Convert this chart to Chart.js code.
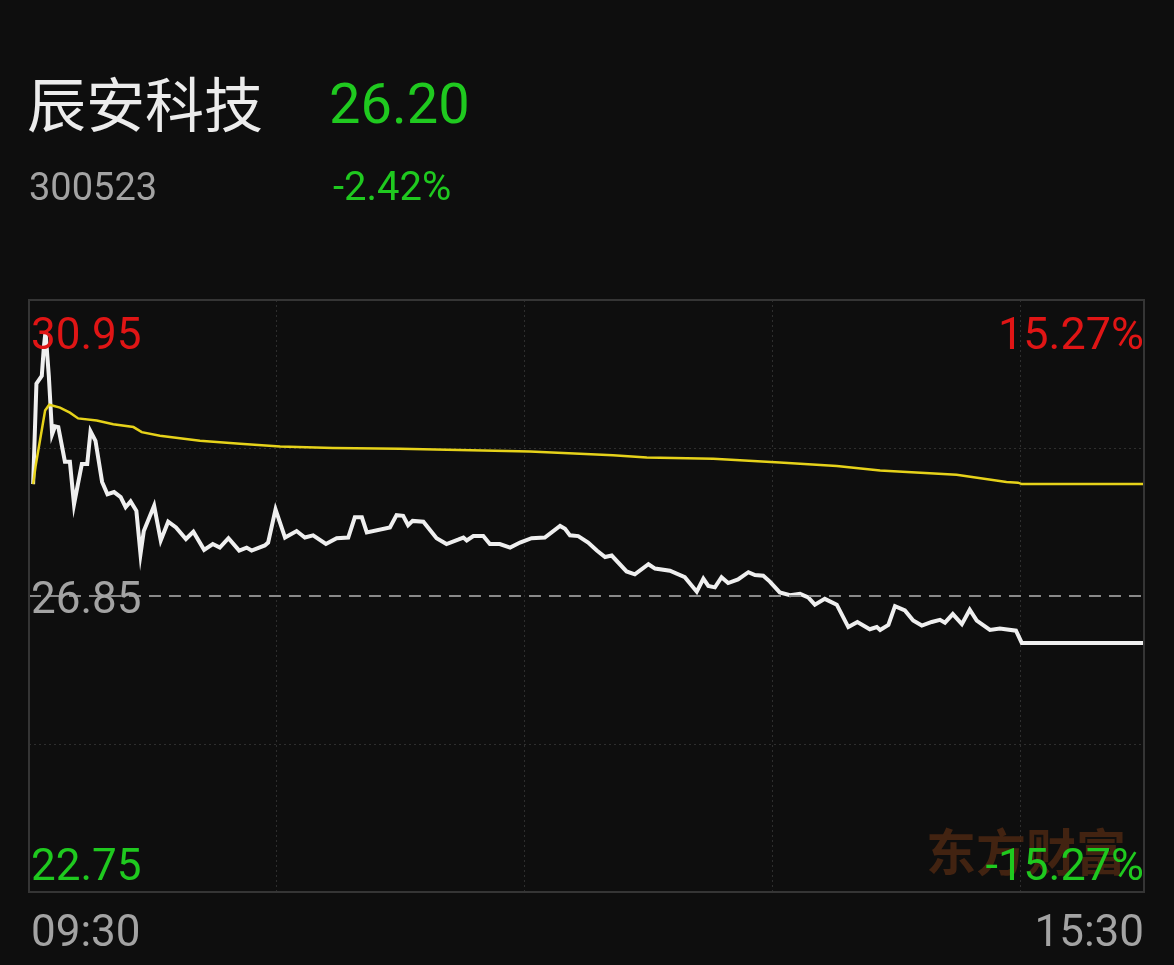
<!DOCTYPE html>
<html lang="zh-CN">
<head>
  <meta charset="UTF-8">
  <title>辰安科技 分时</title>
  <script src="https://cdn.jsdelivr.net/npm/chart.js"></script>
  <style>
    body { margin: 0; background: #0e0e0e; }
    #wrap { width: 1174px; height: 965px; position: relative; }
  </style>
</head>
<body>
  <div id="wrap">
    <canvas id="minuteChart"></canvas>
  </div>

  <script>
    // stock info
    const stockName = '辰安科技';
    const stockCode = '300523';
    const lastPrice = '26.20';
    const changePct = '-2.42%';
    const preClose = 26.85;
    const priceMax = 30.95;
    const priceMin = 22.75;
    const pctLabels = ['15.27%', '-15.27%'];
    const timeLabels = ['09:30', '15:30'];

    // minutes since 09:30 on the trading clock (240 = 15:00, 270 = 15:30 after-hours)
    const priceMinutes = [1.0, 1.8, 3.1, 3.6, 4.0, 4.8, 5.6, 6.3, 7.1, 8.7, 9.9, 10.9, 12.8, 14.1, 14.9, 16.1,
      17.7, 19.0, 20.6, 22.2, 23.4, 24.6, 26.0, 27.0, 27.8, 30.3, 31.9, 33.7, 35.6, 38.0, 39.8, 42.4,
      44.5, 46.2, 48.3, 50.9, 52.7, 53.9, 57.1, 57.9, 59.7, 62.0, 64.8, 66.8, 68.8, 71.9, 74.5, 77.3,
      78.9, 80.6, 81.8, 87.4, 89.0, 90.6, 91.8, 92.9, 95.5, 98.7, 101.1, 103.9, 105.2, 106.0, 107.6, 110.0,
      111.6, 114.0, 116.5, 118.9, 121.7, 124.9, 128.6, 129.8, 131.0, 133.0, 135.4, 137.5, 139.5, 141.1,
      144.7, 146.7, 150.0, 151.6, 155.2, 158.8, 161.7, 163.3, 164.5, 166.1, 167.7, 169.3, 171.7, 174.2,
      175.8, 177.8, 179.4, 181.8, 184.3, 186.7, 188.7, 190.3, 192.7, 195.6, 198.4, 200.6, 203.6, 205.3,
      206.1, 208.1, 209.7, 212.1, 214.1, 216.2, 218.6, 220.6, 221.8, 223.7, 225.9, 227.8, 229.5, 232.7,
      235.1, 239.0, 240.4, 270];
    const prices = [28.40, 29.79, 29.90, 30.30, 30.51, 29.90, 29.09, 29.20, 29.19, 28.71, 28.71, 28.12, 28.68, 28.68, 29.13, 29.00,
      28.43, 28.26, 28.29, 28.22, 28.08, 28.16, 28.03, 27.43, 27.75, 28.10, 27.62, 27.88, 27.80, 27.64, 27.74, 27.49,
      27.57, 27.52, 27.65, 27.48, 27.52, 27.48, 27.55, 27.59, 28.05, 27.66, 27.75, 27.66, 27.69, 27.57, 27.65, 27.66,
      27.94, 27.94, 27.73, 27.80, 27.97, 27.96, 27.83, 27.89, 27.88, 27.65, 27.57, 27.63, 27.66, 27.62, 27.68, 27.68,
      27.57, 27.57, 27.52, 27.59, 27.65, 27.66, 27.82, 27.78, 27.69, 27.68, 27.59, 27.48, 27.39, 27.41,
      27.19, 27.15, 27.29, 27.23, 27.20, 27.11, 26.91, 27.09, 26.99, 26.97, 27.11, 27.03, 27.08, 27.18,
      27.14, 27.13, 27.05, 26.90, 26.86, 26.88, 26.83, 26.73, 26.81, 26.73, 26.42, 26.49, 26.39, 26.42,
      26.38, 26.45, 26.71, 26.65, 26.51, 26.44, 26.49, 26.52, 26.48, 26.60, 26.46, 26.66, 26.51, 26.38,
      26.40, 26.37, 26.20, 26.20];

    const avgMinutes = [1.0, 1.6, 3.9, 4.9, 7.5, 9.9, 11.9, 16.4, 20.4, 25.3, 27.3, 31.7, 41.4, 51.1, 60.8, 73.6,
      89.8, 121.3, 141.4, 149.6, 165.7, 181.8, 195.6, 206.1, 224.6, 236.7, 239.5, 240.4, 270];
    const avgPrices = [28.40, 28.65, 29.42, 29.50, 29.46, 29.39, 29.31, 29.28, 29.23, 29.19, 29.12, 29.07, 29.00, 28.96, 28.92, 28.90,
      28.89, 28.85, 28.80, 28.77, 28.75, 28.70, 28.65, 28.59, 28.53, 28.43, 28.42, 28.40, 28.40];

    const gridPrices = [priceMin, 24.80, preClose, 28.90, priceMax];
    const gridMinutes = [0, 60, 120, 180, 240, 270];

    const GREEN = '#1fc91f';
    const RED = '#e01515';
    const GREY = '#a3a3a3';

    function pairs(xs, ys) {
      return xs.map((x, i) => ({ x: x, y: ys[i] }));
    }

    // frame, watermark and labels drawn on top of the chart area
    const decorPlugin = {
      id: 'decor',
      beforeDatasetsDraw(chart) {
        const ctx = chart.ctx;
        const a = chart.chartArea;
        ctx.save();
        ctx.fillStyle = 'rgba(110, 52, 20, 0.55)';
        ctx.font = 'bold 50px "Noto Sans CJK SC"';
        ctx.textAlign = 'right';
        ctx.textBaseline = 'middle';
        ctx.fillText('东方财富', a.right - 18, 852);
        ctx.restore();
      },
      afterDraw(chart) {
        const ctx = chart.ctx;
        const a = chart.chartArea;
        const y = chart.scales.y;
        ctx.save();
        ctx.strokeStyle = '#353535';
        ctx.lineWidth = 2;
        ctx.strokeRect(a.left, a.top, a.right - a.left, a.bottom - a.top);

        // header
        ctx.textBaseline = 'alphabetic';
        ctx.textAlign = 'left';
        ctx.fillStyle = '#ececec';
        ctx.font = '59px "Noto Sans CJK SC"';
        ctx.fillText(stockName, 27, 127);
        ctx.fillStyle = GREEN;
        ctx.font = '56px Roboto';
        ctx.fillText(lastPrice, 329, 123);
        ctx.fillStyle = GREY;
        ctx.font = '38px Roboto';
        ctx.fillText(stockCode, 29, 200);
        ctx.fillStyle = GREEN;
        ctx.font = '40px Roboto';
        ctx.fillText(changePct, 333, 200);

        // price / percent labels inside the plot
        ctx.font = '44px Roboto';
        ctx.fillStyle = RED;
        ctx.fillText(priceMax.toFixed(2), a.left + 2, y.getPixelForValue(priceMax) + 49);
        ctx.fillStyle = GREY;
        ctx.fillText(preClose.toFixed(2), a.left + 2, y.getPixelForValue(preClose) + 17);
        ctx.fillStyle = GREEN;
        ctx.fillText(priceMin.toFixed(2), a.left + 2, y.getPixelForValue(priceMin) - 12);
        ctx.textAlign = 'right';
        ctx.font = '45px Roboto';
        ctx.fillStyle = RED;
        ctx.fillText(pctLabels[0], a.right, y.getPixelForValue(priceMax) + 49);
        ctx.fillStyle = GREEN;
        ctx.fillText(pctLabels[1], a.right, y.getPixelForValue(priceMin) - 12);

        // time labels
        ctx.font = '44px Roboto';
        ctx.fillStyle = GREY;
        ctx.textAlign = 'left';
        ctx.fillText(timeLabels[0], a.left + 2, a.bottom + 54);
        ctx.textAlign = 'right';
        ctx.fillText(timeLabels[1], a.right, a.bottom + 54);
        ctx.restore();
      }
    };

    const ctx = document.getElementById('minuteChart').getContext('2d');
    const chart = new Chart(ctx, {
      type: 'line',
      data: {
        datasets: [
          {
            label: '昨收',
            data: [{ x: 0, y: preClose }, { x: 270, y: preClose }],
            borderColor: '#8a8a8a',
            borderWidth: 2,
            borderDash: [12, 8],
            pointRadius: 0
          },
          {
            label: '均价',
            data: pairs(avgMinutes, avgPrices),
            borderColor: '#e6d21a',
            borderWidth: 2.5,
            pointRadius: 0,
            tension: 0
          },
          {
            label: '价格',
            data: pairs(priceMinutes, prices),
            borderColor: '#efefef',
            borderWidth: 4,
            pointRadius: 0,
            tension: 0
          }
        ]
      },
      options: {
        responsive: true,
        maintainAspectRatio: false,
        animation: false,
        layout: { padding: { left: 29, right: 30, top: 300, bottom: 73 } },
        plugins: {
          legend: { display: false },
          tooltip: { enabled: false }
        },
        scales: {
          x: {
            type: 'linear',
            min: 0,
            max: 270,
            afterBuildTicks: (axis) => { axis.ticks = gridMinutes.map(v => ({ value: v })); },
            ticks: { display: false },
            grid: {
              drawTicks: false,
              lineWidth: 1,
              color: (c) => (c.tick && (c.tick.value === 0 || c.tick.value === 270)) ? 'rgba(0,0,0,0)' : '#2e2e2e'
            },
            border: { display: false, dash: [2, 3] }
          },
          y: {
            min: priceMin,
            max: priceMax,
            afterBuildTicks: (axis) => { axis.ticks = gridPrices.map(v => ({ value: v })); },
            ticks: { display: false },
            grid: {
              drawTicks: false,
              lineWidth: 1,
              color: (c) => (c.tick && (c.tick.value === priceMin || c.tick.value === priceMax || c.tick.value === preClose)) ? 'rgba(0,0,0,0)' : '#2e2e2e'
            },
            border: { display: false, dash: [2, 3] }
          }
        }
      },
      plugins: [decorPlugin]
    });
  </script>
</body>
</html>
